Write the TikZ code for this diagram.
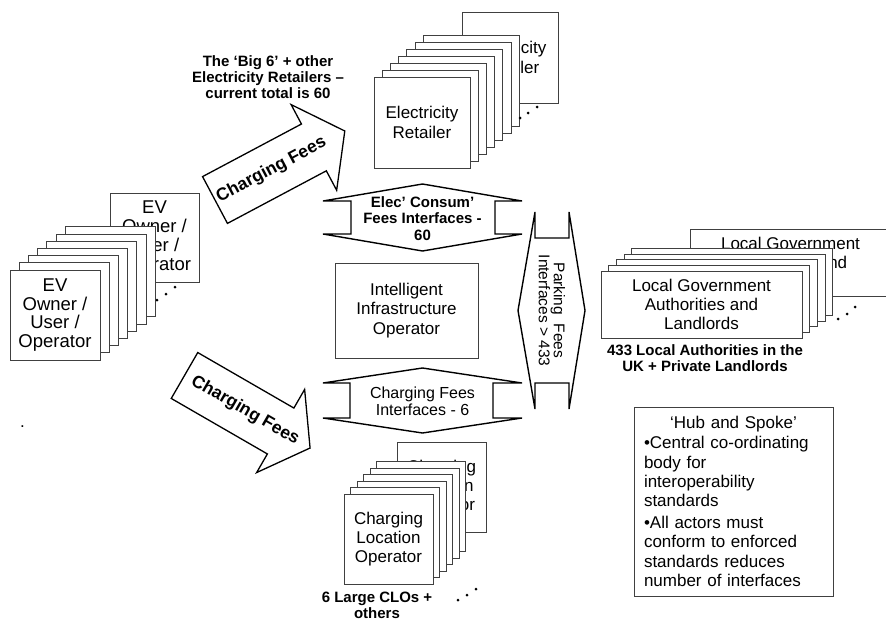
\documentclass[tikz,border=0pt]{standalone}
\usepackage{fontspec}
\setmainfont{Liberation Sans}
\newcommand\boxfont{\fontsize{17}{19.2}\selectfont}
\newcommand\capfont{\fontsize{15}{16}\selectfont\bfseries}
\tikzset{
  card/.style={draw=black!75, fill=white, line width=0.8pt, inner sep=0pt, font=\boxfont, align=center},
  caption/.style={font=\capfont, align=center, inner sep=0pt},
  fatline/.style={draw=black, fill=white, line width=1.4pt, line join=miter, miter limit=4},
  blockarrow/.style={draw=black, fill=white, line width=1.3pt, line join=miter},
  arrowtext/.style={font=\fontsize{17.5}{19}\selectfont\bfseries, inner sep=0pt},
  stackdot/.style={fill=black}
}

\begin{document}
\begin{tikzpicture}[x=1pt, y=-1pt]
    \useasboundingbox (0,0) rectangle (886,621);
    % EV owners stack
    \node[card, minimum width=89, minimum height=89, font=\fontsize{18.5}{18.8}\selectfont] (evfar) at (154.5,237.5) {EV\\Owner /\\User /\\Operator};
    \foreach \i in {6,5,...,1}
        \node[card, minimum width=90, minimum height=90] (ev\i) at ({55+9.2*\i},{315-7.2*\i}) {};
    \node[card, minimum width=90, minimum height=90, font=\fontsize{18.5}{18.8}\selectfont] (ev) at (55,315) {EV\\Owner /\\User /\\Operator};
    \foreach \p in {(157,300),(166,294),(175,287)}
        \fill[stackdot] \p circle (1.5);
    \node[inner sep=0pt, anchor=base, font=\boxfont] (stray) at (22.5,427) {.};
    % electricity retailers stack
    \node[card, minimum width=96, minimum height=91] (elecfar) at (510,57.5) {Electricity\\Retailer};
    \foreach \i in {6,5,...,1}
        \node[card, minimum width=96, minimum height=91] (elec\i) at ({422+8.2*\i},{122.5-7*\i}) {};
    \node[card, minimum width=96, minimum height=91] (elec) at (422,122.5) {Electricity\\Retailer};
    \foreach \p in {(520,118),(528,113),(537,107)}
        \fill[stackdot] \p circle (1.5);
    \node[caption] (eleclabel) at (268,77) {The ‘Big 6’ + other\\Electricity Retailers –\\current total is 60};
    % local government stack
    \node[card, minimum width=201, minimum height=67] (lgfar) at (790.5,262.5) {Local Government\\Authorities and\\Landlords};
    \foreach \i in {4,3,...,1}
        \node[card, minimum width=201, minimum height=67] (lg\i) at ({701.5+7.7*\i},{304.5-5.7*\i}) {};
    \node[card, minimum width=201, minimum height=67] (lg) at (701.5,304.5) {Local Government\\Authorities and\\Landlords};
    \foreach \p in {(838,319),(847,314),(855,307)}
        \fill[stackdot] \p circle (1.5);
    \node[caption] (lglabel) at (705,358) {433 Local Authorities in the\\UK + Private Landlords};
    % charging location operators stack
    \node[card, minimum width=89, minimum height=90] (clofar) at (441.5,487) {Charging\\Location\\Operator};
    \foreach \i in {5,4,...,1}
        \node[card, minimum width=89, minimum height=90] (clo\i) at ({388.5+6.5*\i},{539-6.5*\i}) {};
    \node[card, minimum width=89, minimum height=90] (clo) at (388.5,539) {Charging\\Location\\Operator};
    \foreach \p in {(458,600),(467,595),(476,589)}
        \fill[stackdot] \p circle (1.5);
    \node[caption] (clolabel) at (377,605) {6 Large CLOs +\\others};
    % hub
    \node[card, minimum width=143, minimum height=95] (iio) at (406.5,310.5) {Intelligent\\Infrastructure\\Operator};
    % interfaces
    \draw[fatline] (323,201) -- (422.5,184) -- (522,201) -- (495,201) -- (495,234) -- (522,234)
        -- (422.5,251) -- (323,234) -- (351,234) -- (351,201) -- cycle;
    \node[caption, font=\fontsize{15}{16.5}\selectfont\bfseries] (elecif) at (422.5,218.5) {Elec’ Consum’\\Fees Interfaces -\\60};
    \draw[fatline] (323,383) -- (422.5,368) -- (522,383) -- (493,383) -- (493,418) -- (522,418)
        -- (422.5,433) -- (323,418) -- (350,418) -- (350,383) -- cycle;
    \node[caption, font=\fontsize{16}{16.5}\selectfont] (cloif) at (422.5,401.5) {Charging Fees\\Interfaces - 6};
    \draw[fatline] (535,212) -- (535,238) -- (569,238) -- (569,212) -- (585,310.5) -- (569,409)
        -- (569,383) -- (535,383) -- (535,409) -- (518,310.5) -- cycle;
    \node[caption, font=\fontsize{15.5}{15}\selectfont, rotate=-90] (parkif) at (552,310.5) {Parking \ Fees\\Interfaces > 433};
    % charging fees arrows
    \begin{scope}[shift={(215,200)}, rotate=28]
        \draw[blockarrow] (0,-26.5) -- (112,-26.5) -- (112,-48.5) -- (147,0) -- (112,48.5) -- (112,26.5) -- (0,26.5) -- cycle;
        \node[arrowtext, transform shape] (feesup) at (64,0) {Charging Fees};
    \end{scope}
    \begin{scope}[shift={(184.5,375.5)}, rotate=-30]
        \draw[blockarrow] (0,-26.5) -- (111,-26.5) -- (111,-48) -- (145,0) -- (111,48) -- (111,26.5) -- (0,26.5) -- cycle;
        \node[arrowtext, transform shape] (feesdown) at (70,0) {Charging Fees};
    \end{scope}
    % hub and spoke note
    \node[card, minimum width=199, minimum height=189, text width=179, align=left] (note) at (733.5,501.5)
        {{\centering ‘Hub and Spoke’\par}\vspace{1pt}%
        •Central co-ordinating\\body for\\interoperability\\standards\par\vspace{3pt}%
        •All actors must\\conform to enforced\\standards reduces\\number of interfaces};
\end{tikzpicture}
\end{document}
